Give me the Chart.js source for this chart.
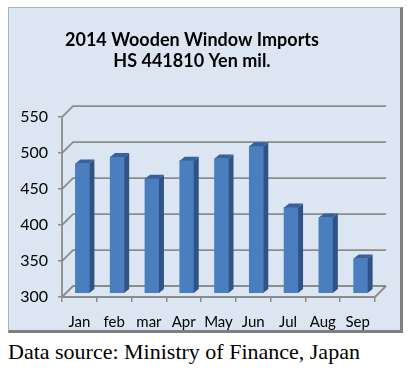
<!DOCTYPE html>
<html>
<head>
<meta charset="utf-8">
<script src="https://cdn.jsdelivr.net/npm/chart.js@4/dist/chart.umd.min.js"></script>
<style>
  body { margin: 0; background: #fff; width: 419px; height: 370px; position: relative; }
  #panel {
    position: absolute; left: 8px; top: 7px; width: 391px; height: 322px;
    background: #dce6f2; border: 1px solid #b0b0b0;
    border-right: 3px solid #7f7f7f; border-bottom: 3px solid #7f7f7f;
  }
  #myChart { display: block; }
  #caption {
    position: absolute; left: 8px; top: 339px;
    font-family: "Liberation Serif", serif; font-size: 22px; color: #000;
  }
</style>
</head>
<body>
<div id="panel"><canvas id="myChart" width="391" height="322"></canvas></div>
<div id="caption">Data source: Ministry of Finance, Japan</div>
<script>
// data
var months = ['Jan', 'feb', 'mar', 'Apr', 'May', 'Jun', 'Jul', 'Aug', 'Sep'];
var imports = [480, 489, 459, 484, 487, 504, 419, 405, 348];
var yTicks = [300, 350, 400, 450, 500, 550];

var DX = 11, DY = -11;   // depth of the back wall
var BX = 3, BY = -4;     // bars sit a bit behind the front edge
var SX = 5, SY = -4;     // bar depth

// back wall grid + floor, drawn before the bars
var wall = {
  id: 'wall',
  beforeDatasetsDraw: function (chart) {
    var c = chart.ctx, a = chart.chartArea, y = chart.scales.y;
    c.save();
    c.strokeStyle = '#8c8c8c';
    c.lineWidth = 1.8;
    yTicks.forEach(function (v) {
      var py = y.getPixelForValue(v);
      c.beginPath();
      c.moveTo(a.left, py);
      c.lineTo(a.left + DX, py + DY);
      c.lineTo(a.right + DX, py + DY);
      c.stroke();
    });
    // floor front edge and right side
    var by = y.getPixelForValue(300);
    c.beginPath();
    c.moveTo(a.left, by);
    c.lineTo(a.right, by);
    c.lineTo(a.right + DX, by + DY);
    c.stroke();
    // left wall edge
    c.beginPath();
    c.moveTo(a.left, y.getPixelForValue(550));
    c.lineTo(a.left, by);
    c.stroke();
    c.restore();
    chart.ctx.save();
    chart.ctx.translate(BX, BY);
  },
  afterDatasetsDraw: function (chart) {
    var c = chart.ctx;
    var base = chart.scales.y.getPixelForValue(300);
    chart.getDatasetMeta(0).data.forEach(function (bar) {
      var x0 = bar.x - bar.width / 2, x1 = bar.x + bar.width / 2;
      c.fillStyle = '#2f5386';
      c.beginPath();
      c.moveTo(x1, bar.y);
      c.lineTo(x1 + SX, bar.y + SY);
      c.lineTo(x1 + SX, base + SY);
      c.lineTo(x1, base);
      c.closePath();
      c.fill();
      c.fillStyle = '#36619a';
      c.beginPath();
      c.moveTo(x0, bar.y);
      c.lineTo(x0 + SX, bar.y + SY);
      c.lineTo(x1 + SX, bar.y + SY);
      c.lineTo(x1, bar.y);
      c.closePath();
      c.fill();
    });
    c.restore();
  }
};

var ctx = document.getElementById('myChart').getContext('2d');
var myChart = new Chart(ctx, {
  type: 'bar',
  data: {
    labels: months,
    datasets: [{
      data: imports,
      backgroundColor: '#4a7ebf',
      barThickness: 14,
      borderWidth: 0
    }]
  },
  options: {
    responsive: false,
    animation: false,
    layout: { padding: { left: 0, right: 25, bottom: 0 } },
    plugins: {
      legend: { display: false },
      tooltip: { enabled: false },
      title: {
        display: true,
        text: ['2014 Wooden Window Imports', 'HS 441810 Yen mil.'],
        color: '#000',
        font: { family: 'Lato', size: 18, weight: 'bold' },
        lineHeight: 1.2,
        padding: { top: 21, bottom: 45 }
      }
    },
    scales: {
      x: {
        afterFit: function (s) { s.height = 33; },
        grid: { offset: true, drawOnChartArea: false, tickLength: 5, color: '#8c8c8c', lineWidth: 1.5 },
        border: { display: false },
        ticks: { color: '#000', padding: 11, font: { family: 'Lato', size: 15 } }
      },
      y: {
        min: 300,
        max: 550,
        afterFit: function (s) { s.width = 53; },
        grid: { drawOnChartArea: false, tickLength: 4, color: '#8c8c8c', lineWidth: 1.5 },
        border: { display: false },
        ticks: { stepSize: 50, color: '#000', padding: 10, font: { family: 'Lato', size: 16 } }
      }
    }
  },
  plugins: [wall]
});
</script>
</body>
</html>
